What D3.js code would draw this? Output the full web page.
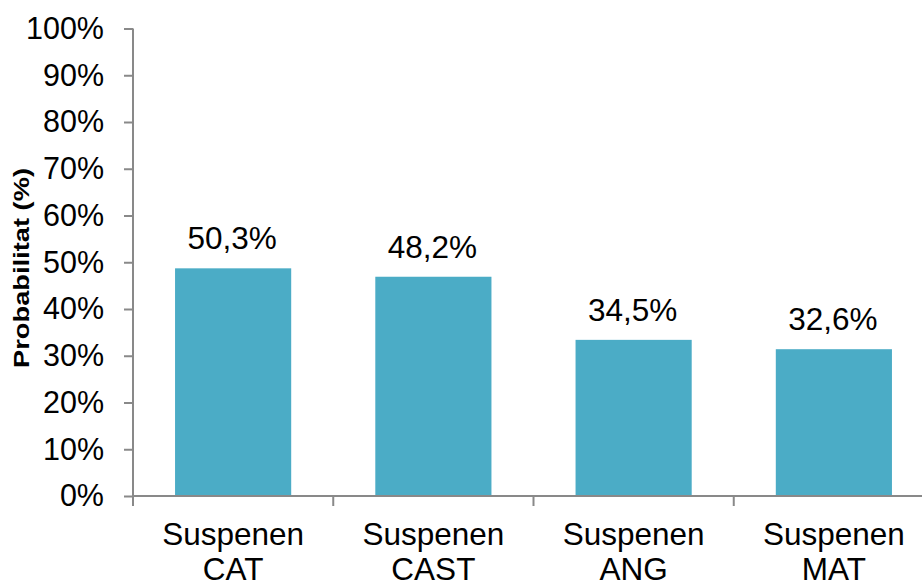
<!DOCTYPE html>
<html>
<head>
<meta charset="utf-8">
<script src="https://cdn.jsdelivr.net/npm/d3@7"></script>
<style>
  html, body { margin: 0; padding: 0; background: #fff; }
  svg { display: block; }
  text { font-family: "Liberation Sans", Arial, sans-serif; fill: #000; }
</style>
</head>
<body>
<svg id="chart" width="922" height="583"></svg>
<script>
// ---- data ----
const categories = [["Suspenen", "CAT"], ["Suspenen", "CAST"], ["Suspenen", "ANG"], ["Suspenen", "MAT"]];
const barValues = [0.487, 0.469, 0.334, 0.314];          // bar heights as drawn
const barLabels = ["50,3%", "48,2%", "34,5%", "32,6%"];   // printed data labels
const yTicks = [0, 0.1, 0.2, 0.3, 0.4, 0.5, 0.6, 0.7, 0.8, 0.9, 1.0];
const yTickLabels = ["0%", "10%", "20%", "30%", "40%", "50%", "60%", "70%", "80%", "90%", "100%"];
const yTitle = "Probabilitat (%)";

const svg = d3.select("#chart");
const axisColor = "#898989";
const barColor = "#4BACC6";

const keys = categories.map((c, i) => i);
const x = d3.scaleBand().domain(keys).range([133, 934]).paddingInner(0.42).paddingOuter(0.21);
const y = d3.scaleLinear().domain([0, 1]).range([496, 28.5]);

// bars
svg.append("g").selectAll("rect").data(keys).join("rect")
  .attr("x", i => x(i))
  .attr("width", x.bandwidth())
  .attr("y", i => y(barValues[i]))
  .attr("height", i => y(0) - y(barValues[i]))
  .attr("fill", barColor);

// y axis
const yAxis = d3.axisLeft(y).tickValues(yTicks).tickSize(9).tickPadding(20)
  .tickFormat((d, i) => yTickLabels[i]);
const gy = svg.append("g").attr("transform", "translate(133,0)").call(yAxis);
gy.select(".domain").remove();
gy.append("line").attr("x1", 0).attr("x2", 0).attr("y1", y(1)).attr("y2", y(0))
  .attr("stroke", axisColor).attr("stroke-width", 2);
gy.selectAll(".tick line").attr("stroke", axisColor).attr("stroke-width", 2);
gy.selectAll(".tick text").style("font-size", "30.5px").attr("fill", "#000")
  .style("font-family", '"Liberation Sans", Arial, sans-serif');

// x axis
const gx = svg.append("g").attr("transform", `translate(0,${y(0)})`);
gx.append("line").attr("x1", 133).attr("x2", 934).attr("y1", 0).attr("y2", 0)
  .attr("stroke", axisColor).attr("stroke-width", 2);
const bounds = keys.map(i => x(i) - x.step() * x.paddingInner() / 2).concat([x.range()[1]]);
gx.selectAll("line.tk").data(bounds).join("line").attr("class", "tk")
  .attr("x1", d => d).attr("x2", d => d).attr("y1", 0).attr("y2", 10)
  .attr("stroke", axisColor).attr("stroke-width", 2);
const catText = gx.selectAll("text.cat").data(keys).join("text").attr("class", "cat")
  .attr("x", i => x(i) + x.bandwidth() / 2)
  .attr("text-anchor", "middle")
  .style("font-size", "31.5px");
catText.append("tspan").attr("x", i => x(i) + x.bandwidth() / 2).attr("y", 49).text(i => categories[i][0]);
catText.append("tspan").attr("x", i => x(i) + x.bandwidth() / 2).attr("y", 84).text(i => categories[i][1]);

// data labels
svg.append("g").selectAll("text").data(keys).join("text")
  .attr("x", i => x(i) + x.bandwidth() / 2 - 1)
  .attr("y", i => y(barValues[i]) - 19)
  .attr("text-anchor", "middle")
  .style("font-size", "31.5px")
  .text(i => barLabels[i]);

// y title
svg.append("text")
  .attr("transform", "translate(29,268) rotate(-90) scale(1.24,1)")
  .attr("text-anchor", "middle")
  .style("font-size", "22px")
  .style("font-weight", "bold")
  .text(yTitle);
</script>
</body>
</html>
